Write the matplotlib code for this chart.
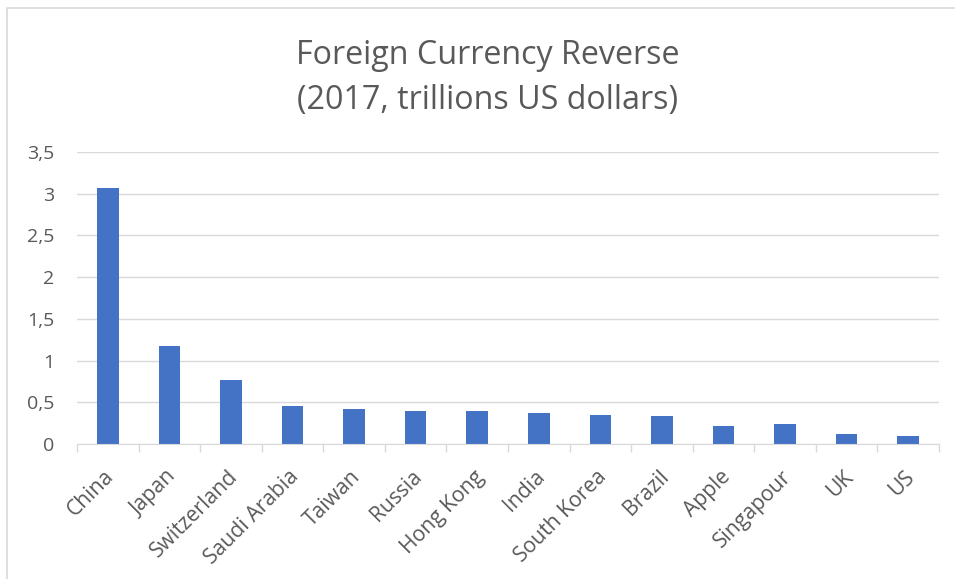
import matplotlib
matplotlib.use("Agg")
import matplotlib.pyplot as plt
from matplotlib.patches import Rectangle
from matplotlib.ticker import FuncFormatter, FixedLocator
from matplotlib.transforms import ScaledTranslation
import numpy as np

plt.rcParams['font.family'] = ['Open Sans', 'DejaVu Sans']

countries = ["China", "Japan", "Switzerland", "Saudi Arabia", "Taiwan", "Russia",
             "Hong Kong", "India", "South Korea", "Brazil", "Apple", "Singapour", "UK", "US"]
reserves = [3.07, 1.17, 0.77, 0.45, 0.42, 0.39, 0.39, 0.37, 0.35, 0.33, 0.22, 0.24, 0.12, 0.09]
y_ticks = [0, 0.5, 1, 1.5, 2, 2.5, 3, 3.5]
title_lines = ["Foreign Currency Reverse", "(2017, trillions US dollars)"]

text_color = "#595959"
grid_color = "#d9d9d9"
bar_color = "#4472C4"

W, H = 955, 579
fig = plt.figure(figsize=(W / 100, H / 100), dpi=100)
fig.patches.append(Rectangle((7/W, -0.1), 1.2, 1.1 - 8/H, transform=fig.transFigure,
                             fill=False, edgecolor=grid_color, linewidth=1.2))
ax = fig.add_axes([77/W, 1-444/H, 862/W, 292/H])

x = np.arange(len(countries))
ax.bar(x, reserves, width=0.35, color=bar_color, zorder=3)
ax.set_xlim(-0.5, len(countries) - 0.5)
ax.set_ylim(0, 3.5)
ax.set_yticks(y_ticks)
ax.yaxis.set_major_formatter(FuncFormatter(lambda v, p: ("%g" % v).replace(".", ",")))
ax.grid(axis="y", color=grid_color, linewidth=1, zorder=0)
ax.tick_params(axis="y", length=0, labelsize=14, labelcolor=text_color, pad=16.5)

ax.set_xticks(x)
ax.set_xticklabels(countries, rotation=45, ha="right", va="top", rotation_mode="anchor",
                   fontsize=15.2, color=text_color)
ax.xaxis.set_minor_locator(FixedLocator(np.arange(-0.5, len(countries), 1)))
ax.tick_params(axis="x", which="major", length=0, pad=16)
ax.tick_params(axis="x", which="minor", length=6, color=grid_color, width=1)
off = ScaledTranslation(-4/100, 0, fig.dpi_scale_trans)
for lab in ax.get_xticklabels():
    lab.set_transform(lab.get_transform() + off)

for s in ["top", "right", "left"]:
    ax.spines[s].set_visible(False)
ax.spines["bottom"].set_color(grid_color)
ax.spines["bottom"].set_zorder(4)

fig.text(488/W, 1-64/H, title_lines[0], ha="center", va="baseline", fontsize=23.2,
         color=text_color)
fig.text(488/W, 1-109/H, title_lines[1], ha="center", va="baseline", fontsize=23.2,
         color=text_color)

fig.savefig("out.png", dpi=100)
